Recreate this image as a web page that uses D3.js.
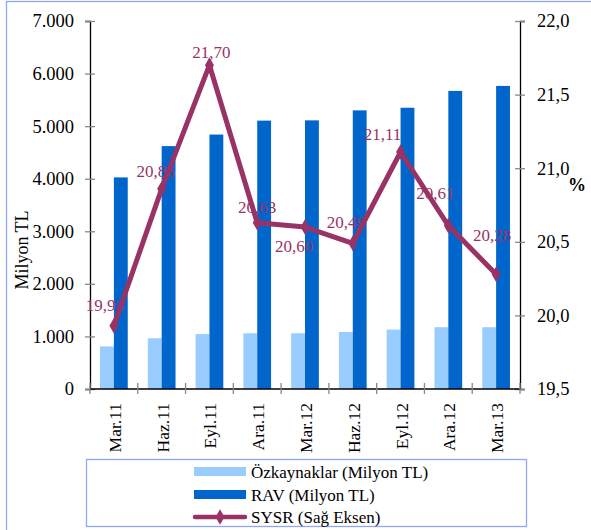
<!DOCTYPE html>
<html>
<head>
<meta charset="utf-8">
<script src="https://cdn.jsdelivr.net/npm/d3@7"></script>
<style>
  html, body { margin: 0; padding: 0; background: #fff; }
  svg { display: block; }
  svg text { font-family: 'Liberation Serif', 'Times New Roman', Tinos, 'DejaVu Serif', serif !important; }
</style>
</head>
<body>
<svg id="chart" width="591" height="530"></svg>
<script>
// Quarterly categories
const categories = ["Mar.11", "Haz.11", "Eyl.11", "Ara.11", "Mar.12", "Haz.12", "Eyl.12", "Ara.12", "Mar.13"];
// Equity (million TL)
const ozkaynaklar = [810, 965, 1045, 1060, 1060, 1085, 1130, 1175, 1175];
// Risk-weighted assets (million TL)
const rav = [4025, 4620, 4840, 5105, 5110, 5300, 5350, 5670, 5765];
// Capital adequacy ratio (%), right axis
const sysr = [19.93, 20.86, 21.70, 20.63, 20.60, 20.49, 21.11, 20.61, 20.28];
// Tick values
const leftTicks = [0, 1000, 2000, 3000, 4000, 5000, 6000, 7000];
const rightTicks = [19.5, 20.0, 20.5, 21.0, 21.5, 22.0];
// Legend entries
const legendLabels = ["Özkaynaklar (Milyon TL)", "RAV (Milyon TL)", "SYSR (Sağ Eksen)"];

// Label nudges (dx, dy from the point) so the value labels don't collide
const labelOffsets = [[-9, -15], [-6, -12], [2, -7], [0, -10], [-11, 25], [-7, -15], [-18, -12], [-13, -27], [-4, -33]];

const colLight = "#99CCFF", colDark = "#0066CC", colLine = "#993366", colFrame = "#8FA8F5";

const svg = d3.select("#chart");
const plot = { left: 90, right: 520, top: 21, bottom: 389 };

const trLocale = d3.formatLocale({ decimal: ",", thousands: ".", grouping: [3], currency: ["", " TL"] });
const fmtLeft = trLocale.format(",.0f");
const fmtRight = trLocale.format(".1f");
const fmtLabel = trLocale.format(".2f");

// Outer frame
svg.append("rect").attr("x", 6.5).attr("y", 1.5).attr("width", 620).attr("height", 560)
  .attr("fill", "none").attr("stroke", colFrame).attr("stroke-width", 1.3);

const x = d3.scaleBand().domain(categories).range([plot.left, plot.right]).padding(0);
const bw = x.bandwidth();
const xSub = d3.scaleBand().domain(["oz", "rav"]).range([bw * 0.21, bw * 0.79]).padding(0);
const yL = d3.scaleLinear().domain([0, 7000]).range([plot.bottom, plot.top]);
const yR = d3.scaleLinear().domain([19.5, 22]).range([plot.bottom, plot.top]);

// Bars
const groups = svg.append("g").selectAll("g").data(categories).join("g")
  .attr("transform", d => `translate(${x(d)},0)`);
groups.append("rect")
  .attr("x", xSub("oz")).attr("width", xSub.bandwidth())
  .attr("y", (d, i) => yL(ozkaynaklar[i])).attr("height", (d, i) => yL(0) - yL(ozkaynaklar[i]))
  .attr("fill", colLight);
groups.append("rect")
  .attr("x", xSub("rav")).attr("width", xSub.bandwidth())
  .attr("y", (d, i) => yL(rav[i])).attr("height", (d, i) => yL(0) - yL(rav[i]))
  .attr("fill", colDark);

// Left axis
const axL = svg.append("g").attr("transform", `translate(${plot.left},0)`)
  .call(d3.axisLeft(yL).tickValues(leftTicks).tickFormat(fmtLeft).tickSize(5).tickPadding(11));
axL.select(".domain").attr("stroke", "#000").attr("stroke-width", 1.3);
axL.selectAll(".tick line").attr("x1", 5).attr("stroke", "#888").attr("stroke-width", 1.3);
axL.selectAll(".tick text").attr("font-size", 18.5).attr("fill", "#000");

// Right axis
const axR = svg.append("g").attr("transform", `translate(${plot.right},0)`)
  .call(d3.axisRight(yR).tickValues(rightTicks).tickFormat(fmtRight).tickSize(5).tickPadding(12));
axR.select(".domain").attr("stroke", "#000").attr("stroke-width", 1.3);
axR.selectAll(".tick line").attr("x1", -5).attr("stroke", "#888").attr("stroke-width", 1.3);
axR.selectAll(".tick text").attr("font-size", 18.5).attr("fill", "#000");

// Category axis: ticks on band edges, labels rotated
const bottom = svg.append("g");
bottom.append("line").attr("x1", plot.left).attr("x2", plot.right)
  .attr("y1", plot.bottom).attr("y2", plot.bottom).attr("stroke", "#000").attr("stroke-width", 1.3);
const edges = categories.map(c => x(c)).concat([plot.right]);
bottom.selectAll("line.tick").data(edges).join("line").attr("class", "tick")
  .attr("x1", d => d).attr("x2", d => d).attr("y1", plot.bottom - 6).attr("y2", plot.bottom + 5)
  .attr("stroke", "#888").attr("stroke-width", 1.3);
bottom.selectAll("text").data(categories).join("text")
  .attr("transform", d => `translate(${x(d) + bw / 2 + 7},403) rotate(-90)`)
  .attr("text-anchor", "end").attr("font-size", 17.5).attr("fill", "#000").text(d => d);

// Axis titles
svg.append("text").attr("transform", "translate(28,250) rotate(-90)")
  .attr("text-anchor", "middle").attr("font-size", 18).attr("fill", "#000").text("Milyon TL");
svg.append("text").attr("x", 577).attr("y", 191).attr("text-anchor", "middle")
  .attr("font-size", 18).attr("font-weight", "bold").attr("fill", "#000").text("%");

// SYSR line with diamond markers
const pts = categories.map((c, i) => [x(c) + bw / 2, yR(sysr[i])]);
svg.append("path").attr("d", d3.line()(pts)).attr("fill", "none")
  .attr("stroke", colLine).attr("stroke-width", 5).attr("stroke-linejoin", "round");
const diamond = d3.symbol().type(d3.symbolDiamond).size(70);
svg.append("g").selectAll("path").data(pts).join("path")
  .attr("transform", d => `translate(${d[0]},${d[1]})`).attr("d", diamond).attr("fill", colLine);

// Value labels
svg.append("g").selectAll("text").data(sysr).join("text")
  .attr("x", (d, i) => pts[i][0] + labelOffsets[i][0])
  .attr("y", (d, i) => pts[i][1] + labelOffsets[i][1])
  .attr("text-anchor", "middle").attr("font-size", 17).attr("fill", colLine)
  .text(d => fmtLabel(d));

// Legend
const lg = svg.append("g");
lg.append("rect").attr("x", 86.5).attr("y", 459.5).attr("width", 440).attr("height", 67)
  .attr("fill", "#fff").attr("stroke", colFrame).attr("stroke-width", 1.3);
const rowY = [472, 495, 517];
lg.append("rect").attr("x", 194).attr("y", rowY[0] - 5).attr("width", 52).attr("height", 9).attr("fill", colLight);
lg.append("rect").attr("x", 194).attr("y", rowY[1] - 5).attr("width", 52).attr("height", 9).attr("fill", colDark);
lg.append("line").attr("x1", 195).attr("x2", 245).attr("y1", rowY[2]).attr("y2", rowY[2])
  .attr("stroke", colLine).attr("stroke-width", 4.5).attr("stroke-linecap", "round");
lg.append("path").attr("transform", `translate(220,${rowY[2]})`).attr("d", diamond).attr("fill", colLine);
lg.selectAll("text").data(legendLabels).join("text")
  .attr("x", 251).attr("y", (d, i) => rowY[i] + 5.5)
  .attr("font-size", 17).attr("fill", "#000").text(d => d);
</script>
</body>
</html>
